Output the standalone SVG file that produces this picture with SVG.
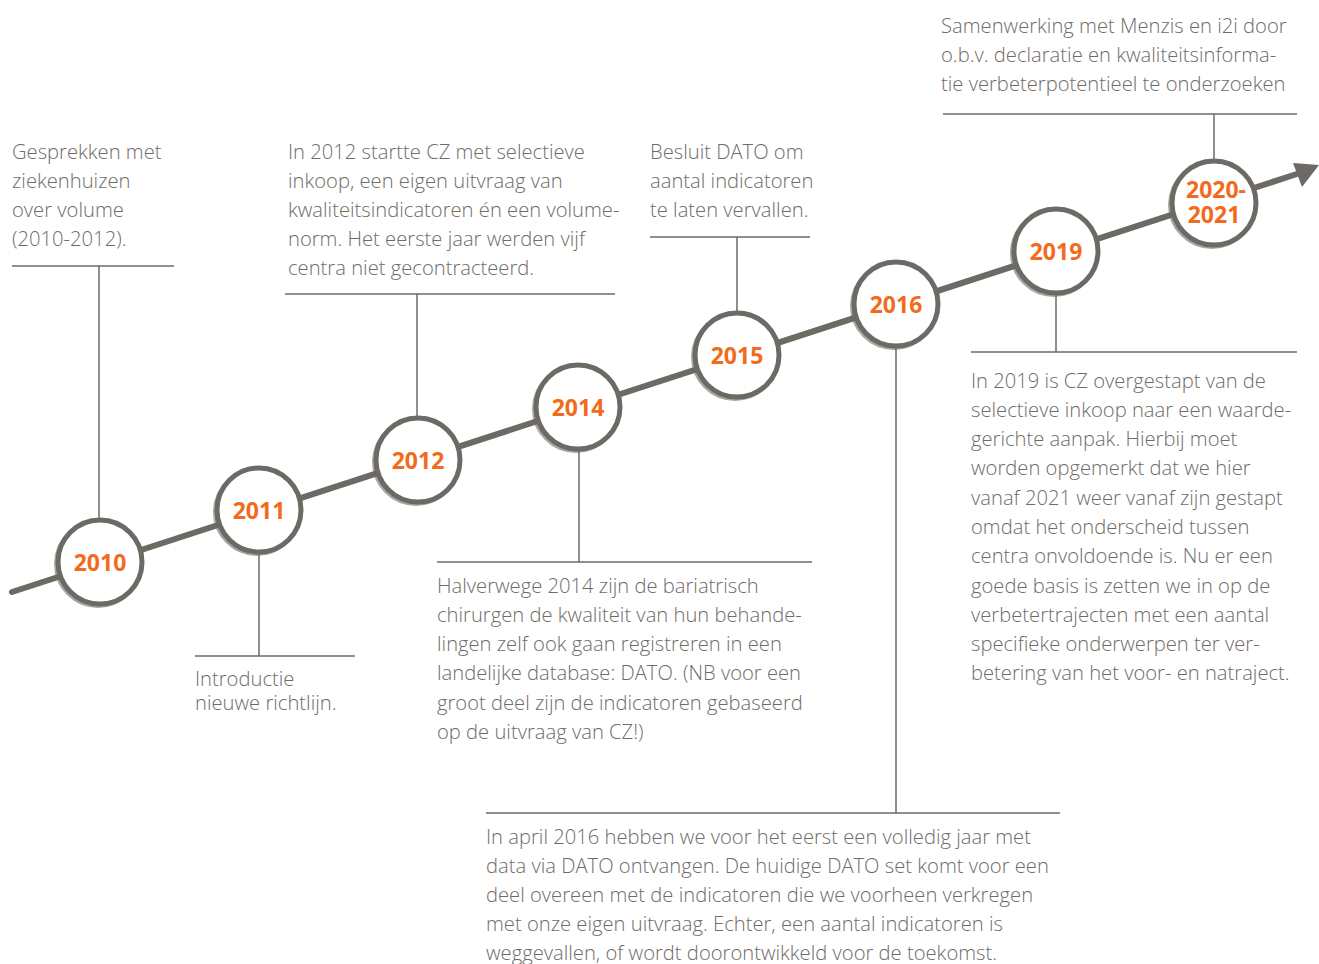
<svg xmlns="http://www.w3.org/2000/svg" width="1319" height="964" viewBox="0 0 1319 964">
<style>
.t{font-family:"Open Sans","Liberation Sans",sans-serif;font-size:20.2px;font-weight:300;fill:#6f6c68}
.y{font-family:"Open Sans","Liberation Sans",sans-serif;font-size:23px;font-weight:700;fill:#f26b1d;text-anchor:middle}
.c{fill:#fff;stroke:#6d6a65;stroke-width:5}
.s{fill:none;stroke:#6d6a65;stroke-width:4;opacity:0.6}
.l{stroke:#6d6a65;stroke-width:1.5;fill:none}
</style>
<g id="connectors">
<line x1="12" y1="592" x2="1300" y2="173" stroke="#6d6a65" stroke-width="6" stroke-linecap="round"/>
<polygon points="1319,165 1293,163 1302,187" fill="#6d6a65"/>
<path class="l" d="M12 266H174M99 266V520"/>
<path class="l" d="M259 552V656M195 656H355"/>
<path class="l" d="M285 294H615M417 294V418"/>
<path class="l" d="M579 450V562M437 562H812"/>
<path class="l" d="M650 237H810M737 237V313"/>
<path class="l" d="M896 347V813M486 813H1060"/>
<path class="l" d="M1056 294V352M971 352H1297"/>
<path class="l" d="M943 114H1297M1214 114V160"/>
</g>
<g id="n2010"><circle class="s" cx="98" cy="564" r="42"/><circle class="c" cx="100" cy="562" r="42"/><text class="y" x="100" y="571">2010</text></g>
<g id="n2011"><circle class="s" cx="257" cy="512" r="42"/><circle class="c" cx="259" cy="510" r="42"/><text class="y" x="259" y="519">2011</text></g>
<g id="n2012"><circle class="s" cx="416" cy="462" r="42"/><circle class="c" cx="418" cy="460" r="42"/><text class="y" x="418" y="469">2012</text></g>
<g id="n2014"><circle class="s" cx="576" cy="409" r="42"/><circle class="c" cx="578" cy="407" r="42"/><text class="y" x="578" y="416">2014</text></g>
<g id="n2015"><circle class="s" cx="735" cy="357" r="42"/><circle class="c" cx="737" cy="355" r="42"/><text class="y" x="737" y="364">2015</text></g>
<g id="n2016"><circle class="s" cx="894" cy="306" r="42"/><circle class="c" cx="896" cy="304" r="42"/><text class="y" x="896" y="313">2016</text></g>
<g id="n2019"><circle class="s" cx="1054" cy="253" r="42"/><circle class="c" cx="1056" cy="251" r="42"/><text class="y" x="1056" y="260">2019</text></g>
<g id="n2020"><circle class="s" cx="1212" cy="205" r="42"/><circle class="c" cx="1214" cy="203" r="42"/><text class="y" x="1216" y="198">2020-</text><text class="y" x="1214" y="223">2021</text></g>
<g id="t2010"><text class="t"><tspan x="12" y="159">Gesprekken met</tspan><tspan x="12" y="188">ziekenhuizen</tspan><tspan x="12" y="217">over volume</tspan><tspan x="12" y="246">(2010-2012).</tspan></text></g>
<g id="t2011"><text class="t"><tspan x="195" y="686">Introductie</tspan><tspan x="195" y="710">nieuwe richtlijn.</tspan></text></g>
<g id="t2012"><text class="t"><tspan x="288" y="159">In 2012 startte CZ met selectieve</tspan><tspan x="288" y="188">inkoop, een eigen uitvraag van</tspan><tspan x="288" y="217">kwaliteitsindicatoren én een volume-</tspan><tspan x="288" y="246">norm. Het eerste jaar werden vijf</tspan><tspan x="288" y="275">centra niet gecontracteerd.</tspan></text></g>
<g id="t2014"><text class="t"><tspan x="437" y="593">Halverwege 2014 zijn de bariatrisch</tspan><tspan x="437" y="622">chirurgen de kwaliteit van hun behande-</tspan><tspan x="437" y="651">lingen zelf ook gaan registreren in een</tspan><tspan x="437" y="680">landelijke database: DATO. (NB voor een</tspan><tspan x="437" y="710">groot deel zijn de indicatoren gebaseerd</tspan><tspan x="437" y="739">op de uitvraag van CZ!)</tspan></text></g>
<g id="t2015"><text class="t"><tspan x="650" y="159">Besluit DATO om</tspan><tspan x="650" y="188">aantal indicatoren</tspan><tspan x="650" y="217">te laten vervallen.</tspan></text></g>
<g id="t2016"><text class="t"><tspan x="486" y="844">In april 2016 hebben we voor het eerst een volledig jaar met</tspan><tspan x="486" y="873">data via DATO ontvangen. De huidige DATO set komt voor een</tspan><tspan x="486" y="902">deel overeen met de indicatoren die we voorheen verkregen</tspan><tspan x="486" y="931">met onze eigen uitvraag. Echter, een aantal indicatoren is</tspan><tspan x="486" y="960">weggevallen, of wordt doorontwikkeld voor de toekomst.</tspan></text></g>
<g id="t2019"><text class="t"><tspan x="971" y="388">In 2019 is CZ overgestapt van de</tspan><tspan x="971" y="417">selectieve inkoop naar een waarde-</tspan><tspan x="971" y="446">gerichte aanpak. Hierbij moet</tspan><tspan x="971" y="475">worden opgemerkt dat we hier</tspan><tspan x="971" y="505">vanaf 2021 weer vanaf zijn gestapt</tspan><tspan x="971" y="534">omdat het onderscheid tussen</tspan><tspan x="971" y="563">centra onvoldoende is. Nu er een</tspan><tspan x="971" y="593">goede basis is zetten we in op de</tspan><tspan x="971" y="622">verbetertrajecten met een aantal</tspan><tspan x="971" y="651">specifieke onderwerpen ter ver-</tspan><tspan x="971" y="680">betering van het voor- en natraject.</tspan></text></g>
<g id="t2020"><text class="t"><tspan x="941" y="33">Samenwerking met Menzis en i2i door</tspan><tspan x="941" y="62">o.b.v. declaratie en kwaliteitsinforma-</tspan><tspan x="941" y="91">tie verbeterpotentieel te onderzoeken</tspan></text></g>
</svg>
